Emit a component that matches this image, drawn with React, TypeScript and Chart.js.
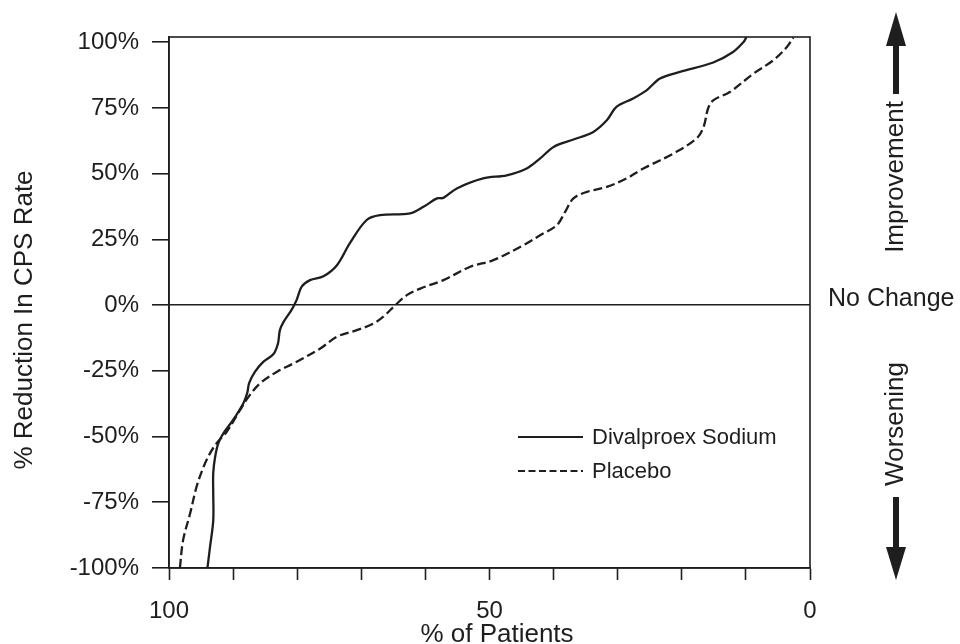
import React, { useEffect, useRef } from "react";
import { Chart, registerables } from "chart.js";

Chart.register(...registerables);

// Divalproex Sodium (solid) — % of patients vs % reduction in CPS rate
const divPatients = [94.0, 93.6, 93.1, 93.1, 93.1, 92.8, 92.3, 91.5, 90.0, 88.4, 87.8, 87.5, 86.6, 85.3, 83.7, 83.0, 82.7, 82.1, 80.9, 80.1, 79.3, 78.0, 75.9, 73.8, 71.8, 69.2, 67.1, 62.4, 60.3, 58.2, 57.2, 55.1, 51.0, 47.3, 44.2, 42.1, 40.0, 36.9, 33.8, 31.7, 30.2, 27.6, 25.5, 23.4, 20.3, 15.1, 12.0, 10.4, 9.9];
const divReduction = [-100, -92, -82, -71.5, -63.9, -57.7, -52.5, -48.7, -43.7, -37.3, -33.5, -29.7, -25.4, -21.6, -18.6, -14.6, -9.5, -6.3, -1.9, 1.9, 7.0, 9.5, 11.0, 15.2, 23.5, 32.3, 34.2, 34.9, 37.4, 40.6, 40.8, 44.4, 48.2, 49.4, 52.0, 55.8, 60.2, 63.0, 65.9, 70.3, 75.4, 78.6, 81.7, 86.2, 88.7, 92.3, 96.3, 100, 102];

// Placebo (dashed)
const plcPatients = [98.3, 97.8, 96.7, 95.7, 94.6, 93.6, 92.6, 91.0, 88.9, 87.6, 85.8, 83.2, 80.6, 76.4, 73.8, 70.7, 68.1, 66.3, 64.7, 62.9, 60.8, 57.2, 53.0, 49.4, 44.7, 42.1, 39.5, 38.2, 36.9, 34.8, 31.7, 28.6, 26.5, 25.5, 21.3, 17.7, 16.6, 15.9, 15.1, 12.5, 8.8, 5.7, 3.6, 2.6];
const plcReduction = [-100, -89.4, -79.2, -69.1, -61.5, -56.4, -52.6, -48.2, -39.9, -34.9, -29.8, -25.4, -22.2, -16.5, -12.0, -9.5, -7.0, -3.8, 0, 3.8, 6.3, 9.5, 14.6, 17.1, 22.8, 26.6, 30.4, 35.5, 40.6, 43.1, 45.0, 48.2, 51.3, 52.6, 57.7, 63.4, 67.8, 74.8, 77.9, 81.1, 88.1, 93.2, 98.2, 101.8];

const seriesNames = ["Divalproex Sodium", "Placebo"];
const yTickValues = [-100, -75, -50, -25, 0, 25, 50, 75, 100];
const xTickValues = [0, 10, 20, 30, 40, 50, 60, 70, 80, 90, 100];
const xLabelledTicks = [0, 50, 100];
const xTitle = "% of Patients";
const yTitle = "% Reduction In CPS Rate";

const FONT = '"Liberation Sans", Arial, Helvetica, sans-serif';
const INK = "#1e1e1e";

const decorPlugin = {
  id: "decor",
  afterDraw(chart: any) {
    const { ctx, chartArea } = chart;
    const { left, right, top, bottom } = chartArea;
    ctx.save();
    // plot frame
    ctx.strokeStyle = INK;
    ctx.lineWidth = 1.6;
    ctx.setLineDash([]);
    ctx.strokeRect(left, top, right - left, bottom - top);

    // axis titles
    ctx.fillStyle = INK;
    ctx.font = `26px ${FONT}`;
    ctx.textAlign = "center";
    ctx.textBaseline = "alphabetic";
    ctx.fillText(xTitle, 497, 642);
    ctx.save();
    ctx.translate(32, 320);
    ctx.rotate(-Math.PI / 2);
    ctx.fillText(yTitle, 0, 0);
    ctx.restore();

    // legend
    const ds = chart.data.datasets;
    const lx0 = 518, lx1 = 583, tx = 592;
    const ly = [437, 471];
    ds.forEach((d: any, i: number) => {
      ctx.beginPath();
      ctx.strokeStyle = INK;
      ctx.lineWidth = 1.8;
      ctx.setLineDash(i === 1 ? [7, 3.5] : []);
      ctx.moveTo(lx0, ly[i]);
      ctx.lineTo(lx1, ly[i]);
      ctx.stroke();
      ctx.setLineDash([]);
      ctx.fillStyle = INK;
      ctx.font = `22px ${FONT}`;
      ctx.textAlign = "left";
      ctx.textBaseline = "middle";
      ctx.fillText(d.label, tx, ly[i] + 1);
    });

    // right-side annotations
    const ax = 896;
    ctx.fillStyle = INK;
    ctx.font = `25px ${FONT}`;
    ctx.textAlign = "left";
    ctx.textBaseline = "middle";
    ctx.fillText("No Change", 828, 299);

    ctx.font = `26px ${FONT}`;
    const vText = (s: string, cy: number) => {
      ctx.save();
      ctx.translate(ax, cy);
      ctx.rotate(-Math.PI / 2);
      ctx.textAlign = "center";
      ctx.textBaseline = "middle";
      ctx.fillText(s, 0, 0);
      ctx.restore();
    };
    vText("Improvement", 177);
    vText("Worsening", 424);

    // up arrow
    ctx.fillRect(ax - 3, 44, 6, 50);
    ctx.beginPath();
    ctx.moveTo(ax, 12);
    ctx.lineTo(ax + 10, 46);
    ctx.lineTo(ax - 10, 46);
    ctx.closePath();
    ctx.fill();
    // down arrow
    ctx.fillRect(ax - 3, 497, 6, 52);
    ctx.beginPath();
    ctx.moveTo(ax, 580);
    ctx.lineTo(ax + 10, 547);
    ctx.lineTo(ax - 10, 547);
    ctx.closePath();
    ctx.fill();
    ctx.restore();
  },
};

export default function App() {
  const ref = useRef<HTMLCanvasElement | null>(null);

  useEffect(() => {
    document.body.style.margin = "0";
    if (!ref.current) return;
    const chart = new Chart(ref.current, {
      type: "line",
      data: {
        datasets: [
          {
            label: seriesNames[0],
            data: divPatients.map((x, i) => ({ x, y: divReduction[i] })),
            borderColor: INK,
            borderWidth: 2.3,
            pointRadius: 0,
            tension: 0.35,
            fill: false,
          },
          {
            label: seriesNames[1],
            data: plcPatients.map((x, i) => ({ x, y: plcReduction[i] })),
            borderColor: INK,
            borderWidth: 2.3,
            borderDash: [9, 4],
            pointRadius: 0,
            tension: 0.35,
            fill: false,
          },
        ],
      },
      options: {
        responsive: false,
        animation: false,
        layout: { padding: { left: 0, right: 150, top: 37, bottom: 0 } },
        plugins: {
          legend: { display: false },
          tooltip: { enabled: false },
        },
        scales: {
          x: {
            type: "linear",
            reverse: true,
            min: 0,
            max: 100,
            afterBuildTicks: (scale: any) => {
              scale.ticks = xTickValues.map((v) => ({ value: v }));
            },
            afterFit: (scale: any) => {
              scale.height = 76;
            },
            ticks: {
              autoSkip: false,
              maxRotation: 0,
              padding: 17,
              color: INK,
              font: { family: FONT, size: 24 },
              callback: (v: any) => (xLabelledTicks.includes(Number(v)) ? String(v) : ""),
            },
            grid: {
              drawOnChartArea: false,
              drawTicks: true,
              tickLength: 12,
              tickColor: INK,
              tickWidth: 1.6,
            },
            border: { display: true, color: INK, width: 1.6 },
            title: { display: false },
          },
          y: {
            type: "linear",
            min: -100,
            max: 102,
            afterBuildTicks: (scale: any) => {
              scale.ticks = yTickValues.map((v) => ({ value: v }));
            },
            afterFit: (scale: any) => {
              scale.width = 169;
            },
            ticks: {
              autoSkip: false,
              padding: 13,
              color: INK,
              font: { family: FONT, size: 24 },
              callback: (v: any) => `${v}%`,
            },
            grid: {
              drawOnChartArea: true,
              drawTicks: true,
              tickLength: 17,
              tickColor: INK,
              tickWidth: 1.6,
              lineWidth: 1.6,
              color: (c: any) => (c.tick && c.tick.value === 0 ? INK : "rgba(0,0,0,0)"),
            },
            border: { display: true, color: INK, width: 1.6 },
            title: { display: false },
          },
        },
      },
      plugins: [decorPlugin],
    } as any);
    return () => chart.destroy();
  }, []);

  return (
    <div style={{ width: 960, height: 644 }}>
      <canvas ref={ref} width={960} height={644} style={{ display: "block" }} />
    </div>
  );
}
